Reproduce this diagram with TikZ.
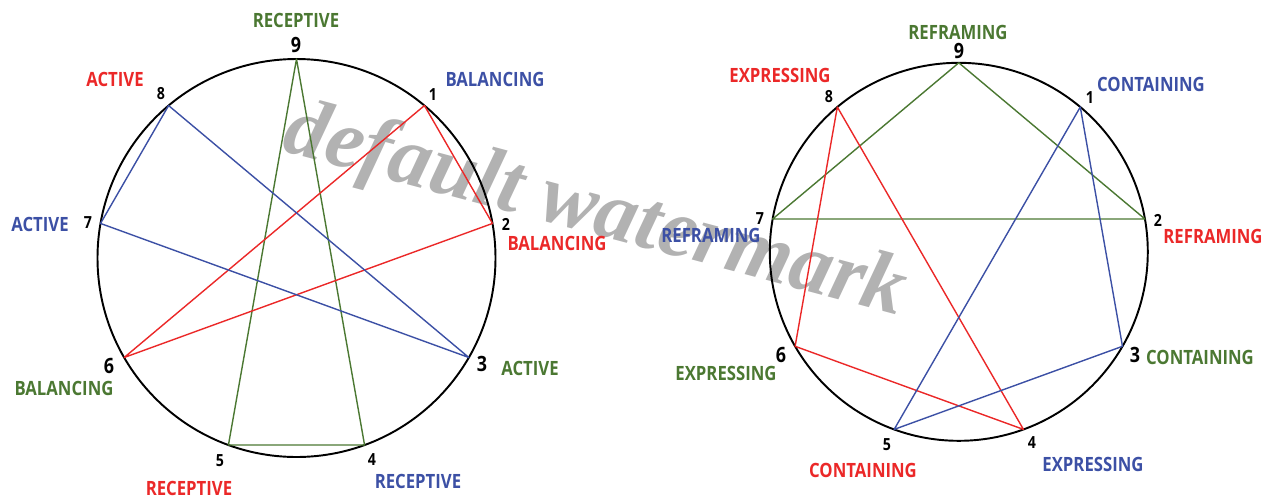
\documentclass[tikz,border=0pt]{standalone}
\usepackage{fontspec}
\setmainfont{Open Sans}
\newfontfamily\lblfont{Open Sans}[FakeStretch=0.85]
\newfontfamily\wmfont{Liberation Serif}
\usetikzlibrary{calc}
\definecolor{enred}{RGB}{235,40,40}
\definecolor{enblue}{RGB}{60,80,165}
\definecolor{engreen}{RGB}{75,120,50}
\definecolor{wmgray}{RGB}{178,178,178}

\begin{document}
\begin{tikzpicture}[x=0.02cm, y=-0.02cm,
    lbl/.style={font=\lblfont\fontsize{11.2}{13}\selectfont\bfseries, inner sep=0pt},
    num/.style={font=\lblfont\fontsize{9.5}{11}\selectfont\bfseries, inner sep=0pt},
    bignum/.style={font=\lblfont\fontsize{12}{14}\selectfont\bfseries, inner sep=0pt},
    ring/.style={line width=1.1pt},
    chord/.style={line width=0.8pt, line join=round}]
    \useasboundingbox (0,0) rectangle (1269,498);
    % watermark behind everything
    \node[rotate=-15, text=wmgray, font=\wmfont\fontsize{48}{50}\selectfont\bfseries\itshape] (wm) at (595,213) {default watermark};

    % the two circles and their nine points
    \coordinate (cL) at (296.5,258);
    \coordinate (cR) at (958.8,251.8);
    \draw[ring] (cL) circle (199);
    \draw[ring] (cR) circle (189);
    \foreach \k in {1,...,9} {
        \coordinate (L\k) at ($(cL)+({40*\k-90}:199)$);
        \coordinate (R\k) at ($(cR)+({40*\k-90}:189)$);
    }

    % left figure
    \draw[chord, engreen] (L9) -- (L4) -- (L5) -- cycle;
    \draw[chord, enred] (L1) -- (L2) -- (L6) -- cycle;
    \draw[chord, enblue] (L8) -- (L7) -- (L3) -- cycle;

    \node[bignum] (nL9) at (296,45) {9};
    \node[num] (nL8) at (161,94) {8};
    \node[num] (nL1) at (433,95) {1};
    \node[num] (nL7) at (88,223) {7};
    \node[num] (nL2) at (506,224) {2};
    \node[bignum] (nL6) at (109,366) {6};
    \node[bignum] (nL3) at (482,364) {3};
    \node[num] (nL5) at (220,461) {5};
    \node[num] (nL4) at (372,460) {4};

    \node[lbl, engreen] (tL9) at (296,20) {RECEPTIVE};
    \node[lbl, enred] (tL8) at (115,79) {ACTIVE};
    \node[lbl, enblue] (tL1) at (495,79) {BALANCING};
    \node[lbl, enblue] (tL7) at (40,224) {ACTIVE};
    \node[lbl, enred] (tL2) at (557,243) {BALANCING};
    \node[lbl, engreen] (tL6) at (64,388) {BALANCING};
    \node[lbl, engreen] (tL3) at (530,368) {ACTIVE};
    \node[lbl, enred] (tL5) at (189,488) {RECEPTIVE};
    \node[lbl, enblue] (tL4) at (418,481) {RECEPTIVE};

    % right figure
    \draw[chord, engreen] (R9) -- (R7) -- (R2) -- cycle;
    \draw[chord, enred] (R8) -- (R6) -- (R4) -- cycle;
    \draw[chord, enblue] (R1) -- (R3) -- (R5) -- cycle;

    \node[bignum] (nR9) at (959,51) {9};
    \node[num] (nR8) at (829,97) {8};
    \node[num] (nR1) at (1090,98) {1};
    \node[num] (nR7) at (760,219) {7};
    \node[num] (nR2) at (1158,220) {2};
    \node[bignum] (nR6) at (781,355) {6};
    \node[bignum] (nR3) at (1135,355) {3};
    \node[num] (nR5) at (887,445) {5};
    \node[num] (nR4) at (1032,443) {4};

    \node[lbl, engreen] (tR9) at (958,32) {REFRAMING};
    \node[lbl, enred] (tR8) at (780,75) {EXPRESSING};
    \node[lbl, enblue] (tR1) at (1151,84) {CONTAINING};
    \node[lbl, enblue] (tR7) at (711,235) {REFRAMING};
    \node[lbl, enred] (tR2) at (1213,236) {REFRAMING};
    \node[lbl, engreen] (tR6) at (726,373) {EXPRESSING};
    \node[lbl, engreen] (tR3) at (1200,357) {CONTAINING};
    \node[lbl, enred] (tR5) at (863,470) {CONTAINING};
    \node[lbl, enblue] (tR4) at (1093,464) {EXPRESSING};
\end{tikzpicture}
\end{document}
